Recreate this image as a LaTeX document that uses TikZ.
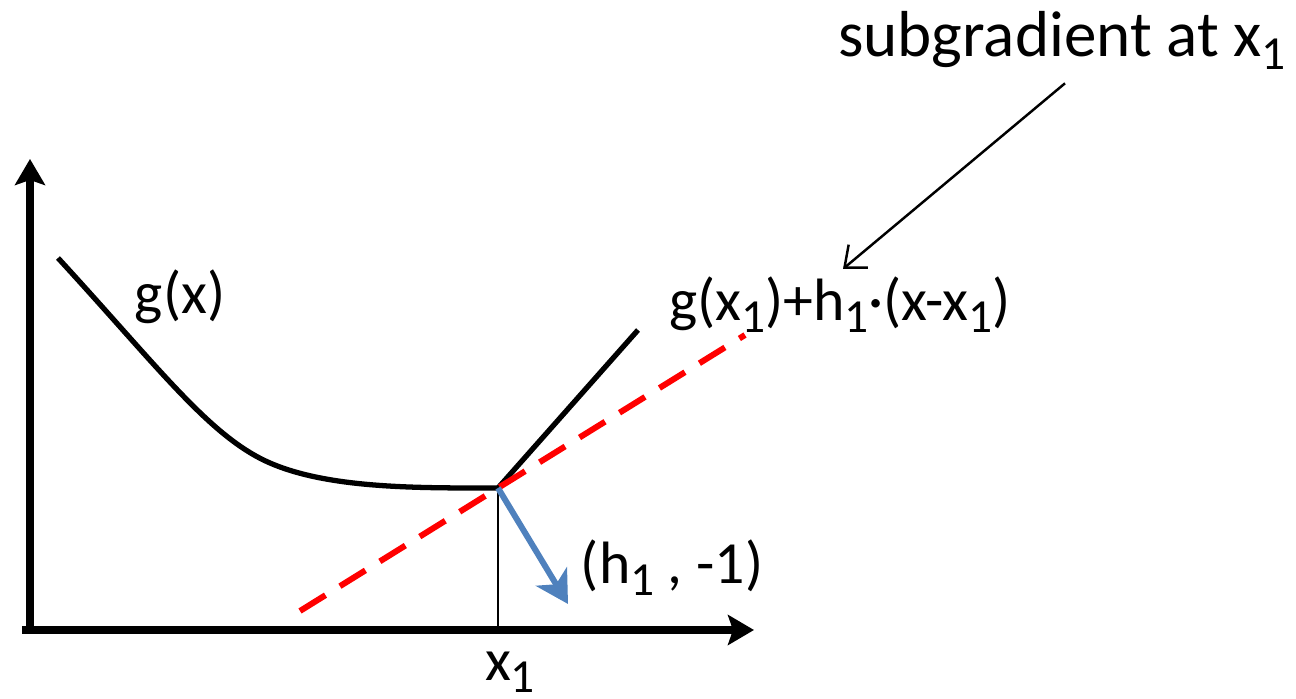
\documentclass[tikz,border=0pt]{standalone}
\usepackage{fontspec}
\setmainfont{Carlito}
\usetikzlibrary{arrows.meta,positioning}
\definecolor{stepBlue}{RGB}{79,129,189}
\newcommand{\LowSub}[1]{\raisebox{-0.42ex}{\fontsize{13.5}{13.5}\selectfont #1}}
\tikzset{
  axisline/.style={line width=2pt,-{Stealth[length=0.26cm,width=0.3cm,inset=0.05cm]}},
  curveline/.style={line width=1.5pt},
  tangentline/.style={red,line width=1.7pt,dash pattern=on 0.3cm off 0.17cm},
  lbl/.style={inner sep=1pt,font=\fontsize{17}{20}\selectfont}
}
\begin{document}
\begin{tikzpicture}
\useasboundingbox (0,0) rectangle (12.96,6.99);
% axes
\coordinate (origin) at (0.30,0.69);
\draw[axisline] (0.22,0.69) -- (7.54,0.69);
\draw[axisline] (0.30,0.66) -- (0.30,5.40);
% function and kink
\coordinate (kink) at (4.98,2.11);
\draw[curveline] (0.58,4.41) .. controls (1.60,3.30) and (2.10,2.62) .. (2.70,2.36)
  .. controls (3.30,2.10) and (4.20,2.11) .. (kink) -- (6.38,3.69);
% linear approximation
\coordinate (lowend) at (3.00,0.88);
\coordinate (highend) at (7.45,3.64);
\draw[tangentline] (lowend) -- (kink) -- (highend);
% foot of x1
\coordinate (foot) at (4.98,0.69);
\draw[line width=0.7pt] (kink) -- (foot);
% subgradient direction
\coordinate (dirend) at (5.68,0.95);
\draw[stepBlue,line width=1.7pt,-{Stealth[length=0.32cm,width=0.36cm,inset=0.09cm]}] (kink) -- (dirend);
% labels
\node[lbl] (gx) at (1.80,4.02) {g(x)};
\node[lbl] (linapprox) at (8.40,3.94) {g(x\LowSub{1})+h\LowSub{1}·(x-x\LowSub{1})};
\node[lbl] (dirlbl) at (6.72,1.31) {(h\LowSub{1} , -1)};
\node[lbl] (xone) at (5.10,0.27) {x\LowSub{1}};
\node[inner sep=1pt,font=\fontsize{18.5}{22}\selectfont] (subgrad) at (10.62,6.59) {subgradient at x\LowSub{1}};
\draw[line width=0.7pt,-{Straight Barb[length=0.18cm,width=0.3cm]}] ([xshift=0.03cm,yshift=-0.1cm]subgrad.south) -- ([xshift=0.03cm,yshift=0.04cm]linapprox.north);
\end{tikzpicture}
\end{document}
